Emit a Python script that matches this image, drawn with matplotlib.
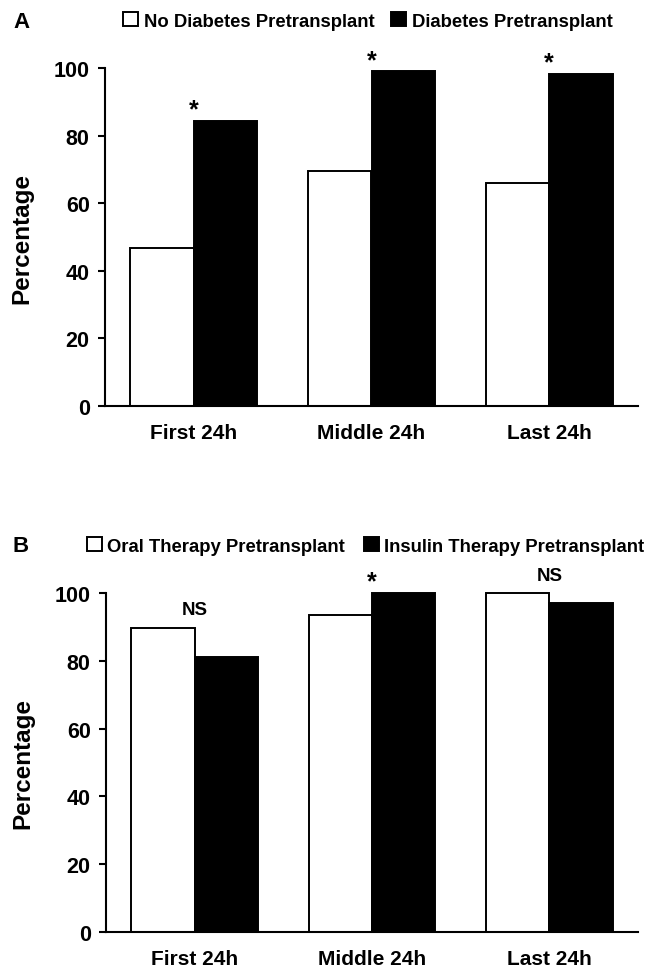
import matplotlib
matplotlib.use("Agg")
import matplotlib.pyplot as plt
import numpy as np

plt.rcParams['font.family'] = ['Liberation Sans', 'DejaVu Sans']
plt.rcParams['font.weight'] = 'bold'

# data
periods = ["First 24h", "Middle 24h", "Last 24h"]

no_diabetes = [46.7, 69.4, 66.1]
diabetes = [84.3, 99.0, 98.2]
sig_a = ["*", "*", "*"]

oral = [89.8, 93.4, 100.0]
insulin = [81.2, 100.0, 97.0]
sig_b = ["NS", "*", "NS"]

W, H = 649, 970
fig = plt.figure(figsize=(W / 100, H / 100), dpi=100)

def px_axes(left, top, right, bottom):
    return fig.add_axes([left / W, 1 - bottom / H, (right - left) / W, (bottom - top) / H])

def panel(ax, white_vals, black_vals, labels, names, sig, letter, leg_x, leg_y, colspace, textpad):
    x = np.arange(len(labels))
    w = 0.358
    b1 = ax.bar(x - w / 2, white_vals, w, color='white', edgecolor='black', linewidth=1.4,
                clip_on=False, label=names[0])
    b2 = ax.bar(x + w / 2, black_vals, w, color='black', edgecolor='black', linewidth=1.4,
                clip_on=False, label=names[1])
    for i in range(len(labels)):
        top = max(white_vals[i], black_vals[i])
        if sig[i] == "*":
            ax.text(x[i], top + 3.4, "*", ha='center', va='center', fontsize=18, fontweight='bold')
        else:
            ax.text(x[i], top + 5.3, sig[i], ha='center', va='center', fontsize=13.5, fontweight='bold')
    ax.set_xlim(-0.5, 2.5)
    ax.set_ylim(0, 100)
    ax.set_yticks([0, 20, 40, 60, 80, 100])
    ax.set_xticks(x)
    ax.set_xticklabels(labels)
    ax.spines['top'].set_visible(False)
    ax.spines['right'].set_visible(False)
    ax.spines['left'].set_linewidth(1.5)
    ax.spines['bottom'].set_linewidth(1.5)
    ax.tick_params(axis='y', direction='out', length=5, width=1.5, labelsize=15.5, pad=6)
    ax.tick_params(axis='x', length=0, labelsize=15, pad=12)
    for t in ax.get_xticklabels() + ax.get_yticklabels():
        t.set_fontweight('bold')
    ax.set_ylabel("Percentage", fontsize=17.5, fontweight='bold')
    ax.yaxis.set_label_coords(-0.134, 0.5)
    fig.legend(handles=[b1, b2], labels=names, loc='center left',
               bbox_to_anchor=(leg_x / W, 1 - leg_y / H), ncol=2, frameon=False,
               handlelength=0.8, handleheight=0.8, handletextpad=textpad,
               columnspacing=colspace, borderpad=0, borderaxespad=0,
               prop={'weight': 'bold', 'size': 13.3})
    fig.text(13 / W, 1 - leg_y / H, letter, ha='left', va='center', fontsize=16, fontweight='bold')

ax1 = px_axes(105, 69, 638, 407)
panel(ax1, no_diabetes, diabetes, periods,
      ["No Diabetes Pretransplant", "Diabetes Pretransplant"], sig_a, "A",
      123, 22, 0.9, 0.33)

ax2 = px_axes(106, 594, 638, 933)
panel(ax2, oral, insulin, periods,
      ["Oral Therapy Pretransplant", "Insulin Therapy Pretransplant"], sig_b, "B",
      87, 547, 1.08, 0.27)

fig.savefig("out.png", dpi=100)
